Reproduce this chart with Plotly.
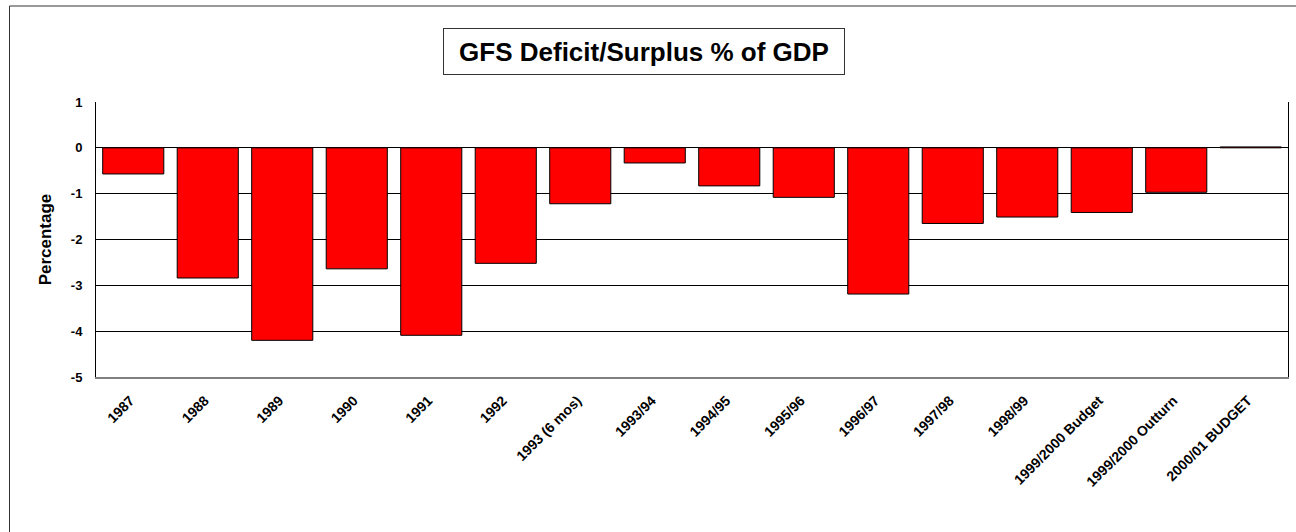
import plotly.graph_objects as go

categories = ["1987", "1988", "1989", "1990", "1991", "1992", "1993 (6 mos)",
              "1993/94", "1994/95", "1995/96", "1996/97", "1997/98", "1998/99",
              "1999/2000 Budget", "1999/2000 Outturn", "2000/01 BUDGET"]
values = [-0.57, -2.84, -4.20, -2.64, -4.09, -2.52, -1.22,
          -0.33, -0.83, -1.08, -3.19, -1.65, -1.51,
          -1.41, -0.97, 0.02]
y_ticks = [-5, -4, -3, -2, -1, 0, 1]

title_text = "GFS Deficit/Surplus % of GDP"
y_title = "Percentage"

FONT = "Arial, Liberation Sans, sans-serif"

W, H = 1296, 532
L, R, T, B = 96, 8, 102, 155
pw, ph = W - L - R, H - T - B

def px_x(x):
    return (x - L) / pw

def px_y(y):
    return (H - B - y) / ph

fig = go.Figure()
fig.add_trace(go.Bar(
    x=categories, y=values,
    marker=dict(color="#FF0000", line=dict(color="#000000", width=1)),
    hoverinfo="x+y",
))

fig.update_layout(
    width=W, height=H,
    margin=dict(l=L, r=R, t=T, b=B, pad=0),
    paper_bgcolor="white", plot_bgcolor="white",
    showlegend=False,
    bargap=0.18,
    font=dict(family=FONT, color="black"),
    xaxis=dict(
        type="category",
        tickangle=-45,
        tickfont=dict(family=FONT, size=14, color="black", weight="bold"),
        showline=True, linecolor="#808080", linewidth=2,
        showgrid=False, ticks="", ticklen=0,
        ticklabelstandoff=8, ticklabelshift=-3,
    ),
    yaxis=dict(
        range=[-5, 1],
        tickvals=y_ticks,
        ticktext=[str(v) for v in y_ticks],
        tickfont=dict(family=FONT, size=13, color="black", weight="bold"),
        showline=True, linecolor="#000000", linewidth=1, mirror=True,
        showgrid=True, gridcolor="#000000", gridwidth=1,
        zeroline=True, zerolinecolor="#000000", zerolinewidth=1,
        ticks="", ticklabelstandoff=10,
        title=dict(text=y_title, standoff=14,
                   font=dict(family=FONT, size=17, color="black", weight="bold")),
    ),
    annotations=[dict(
        text=title_text,
        xref="paper", yref="paper",
        x=px_x(644), y=px_y(52),
        xanchor="center", yanchor="middle",
        showarrow=False,
        font=dict(family=FONT, size=26, color="black", weight="bold"),
        bordercolor="#333333", borderwidth=1, borderpad=0,
        width=400, height=45, bgcolor="white",
    )],
    shapes=[
        dict(type="line", xref="paper", yref="paper",
             x0=px_x(9.5), x1=px_x(W + 20), y0=px_y(6), y1=px_y(6),
             line=dict(color="#333333", width=1)),
        dict(type="line", xref="paper", yref="paper",
             x0=px_x(9.5), x1=px_x(9.5), y0=px_y(6), y1=px_y(H + 20),
             line=dict(color="#333333", width=1)),
    ],
)

fig.write_html("out.html")
